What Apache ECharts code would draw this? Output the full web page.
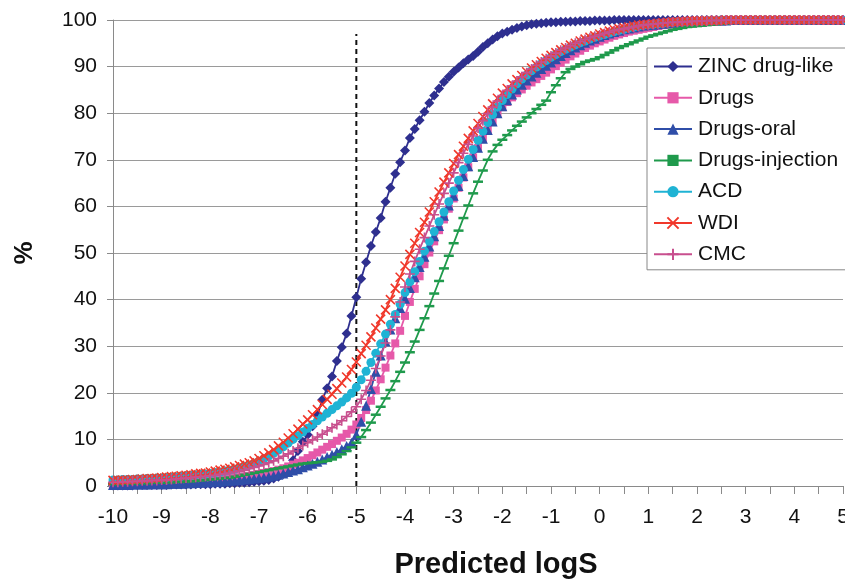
<!DOCTYPE html>
<html>
<head>
  <meta charset="utf-8">
  <title>Predicted logS cumulative distribution</title>
  <script src="https://cdn.jsdelivr.net/npm/echarts@6/dist/echarts.min.js"></script>
  <style>
    html, body { margin: 0; padding: 0; background: #fff; }
    #chart { width: 845px; height: 582px; }
  </style>
</head>
<body>
<div id="chart"></div>
<script type="text/javascript">
// sampling grid of the curves: logS from -10 to 5 in steps of 0.1
var xStart = -10;
var xStep = 0.1;
var xCount = 151;

var seriesNames = ['ZINC drug-like', 'Drugs', 'Drugs-oral', 'Drugs-injection', 'ACD', 'WDI', 'CMC'];

var yTicks = [0, 10, 20, 30, 40, 50, 60, 70, 80, 90, 100];
var xTicks = [-10, -9, -8, -7, -6, -5, -4, -3, -2, -1, 0, 1, 2, 3, 4, 5];

// dashed cut-off line
var cutoffX = -5;
var cutoffRange = [0, 97];

// cumulative %, one value per 0.1 logS, rows of ten
var zinc = [
  0.1,0.1,0.1,0.1,0.1,0.2,0.2,0.2,0.2,0.2,
  0.2,0.2,0.3,0.3,0.3,0.3,0.3,0.4,0.4,0.4,
  0.4,0.5,0.5,0.5,0.6,0.6,0.7,0.7,0.8,0.9,
  1.0,1.1,1.3,1.6,2.0,2.6,3.8,5.5,7.5,9.5,
  11.0,12.8,15.2,18.5,21.0,23.5,26.8,29.8,32.7,36.5,
  40.5,44.5,48.0,51.5,54.5,57.5,61.0,64.0,67.0,69.5,
  72.0,74.7,76.6,78.5,80.3,82.2,83.8,85.3,86.7,87.8,
  88.9,89.8,90.7,91.5,92.3,93.2,94.2,95.0,95.8,96.5,
  97.1,97.5,97.9,98.3,98.6,98.9,99.1,99.2,99.3,99.4,
  99.5,99.5,99.6,99.6,99.7,99.7,99.8,99.8,99.8,99.9,
  99.9,99.9,99.9,100,100,100,100,100,100,100,
  100,100,100,100,100,100,100,100,100,100,
  100,100,100,100,100,100,100,100,100,100,
  100,100,100,100,100,100,100,100,100,100,
  100,100,100,100,100,100,100,100,100,100,
  100
];

var drugs = [
  0.4,0.4,0.4,0.5,0.5,0.5,0.6,0.6,0.6,0.7,
  0.7,0.8,0.8,0.9,0.9,1.0,1.0,1.1,1.2,1.2,
  1.3,1.4,1.5,1.6,1.7,1.8,1.9,2.1,2.2,2.4,
  2.6,2.8,3.0,3.2,3.5,3.8,4.2,4.6,5.0,5.5,
  6.0,6.6,7.2,7.8,8.4,9.0,9.7,10.4,11.2,12.1,
  13.2,14.6,16.3,18.3,20.5,22.9,25.4,28.0,30.6,33.3,
  36.5,39.5,42.3,45.0,47.6,50.1,52.5,54.9,57.2,59.5,
  61.7,64.0,66.2,68.4,70.5,72.5,74.5,76.4,78.2,80.0,
  81.3,82.4,83.4,84.3,85.1,85.9,86.6,87.3,88.0,88.7,
  89.4,90.1,90.8,91.5,92.2,92.8,93.4,94.0,94.5,95.0,
  95.4,95.8,96.2,96.6,96.9,97.2,97.5,97.7,97.9,98.1,
  98.3,98.5,98.7,98.9,99.0,99.1,99.2,99.3,99.4,99.5,
  99.6,99.6,99.7,99.7,99.8,99.8,99.9,99.9,99.9,99.9,
  100,100,100,100,100,100,100,100,100,100,
  100,100,100,100,100,100,100,100,100,100,
  100
];

var drugsOral = [
  0.2,0.2,0.2,0.2,0.3,0.3,0.3,0.3,0.4,0.4,
  0.4,0.4,0.5,0.5,0.5,0.6,0.6,0.7,0.7,0.8,
  0.8,0.9,0.9,1.0,1.1,1.2,1.3,1.4,1.5,1.6,
  1.7,1.8,2.0,2.2,2.4,2.7,3.0,3.3,3.6,4.0,
  4.4,4.8,5.2,5.7,6.2,6.7,7.3,7.9,8.6,9.3,
  11.0,13.8,17.2,20.8,24.5,28.0,31.0,33.6,36.0,38.2,
  40.2,42.5,44.8,47.0,49.2,51.4,53.6,55.8,58.0,60.2,
  62.3,64.4,66.5,68.6,70.6,72.6,74.5,76.4,78.2,80.0,
  81.5,82.8,84.0,85.1,86.1,87.0,87.9,88.7,89.5,90.2,
  90.9,91.6,92.3,92.9,93.5,94.1,94.6,95.1,95.6,96.0,
  96.4,96.8,97.1,97.4,97.7,98.0,98.2,98.4,98.6,98.8,
  98.9,99.0,99.1,99.2,99.3,99.4,99.5,99.5,99.6,99.6,
  99.7,99.7,99.8,99.8,99.9,99.9,99.9,100,100,100,
  100,100,100,100,100,100,100,100,100,100,
  100,100,100,100,100,100,100,100,100,100,
  100
];

var drugsInjection = [
  0.4,0.4,0.5,0.5,0.5,0.6,0.6,0.6,0.7,0.7,
  0.7,0.8,0.8,0.9,0.9,1.0,1.0,1.1,1.2,1.3,
  1.4,1.5,1.6,1.7,1.8,2.0,2.2,2.4,2.6,2.8,
  3.0,3.2,3.4,3.6,3.8,4.0,4.2,4.4,4.6,4.8,
  4.9,5.0,5.1,5.2,5.4,5.7,6.2,6.8,7.5,8.3,
  9.3,10.5,12.0,13.6,15.3,17.0,18.8,20.6,22.5,24.5,
  26.5,28.7,31.0,33.5,36.0,38.6,41.3,44.0,46.7,49.4,
  52.1,54.8,57.5,60.2,62.8,65.3,67.7,70.0,71.8,73.2,
  74.3,75.3,76.3,77.3,78.2,79.1,80.0,80.9,81.8,82.7,
  84.5,86.0,87.5,88.8,89.5,90.0,90.5,91.0,91.3,91.6,
  92.0,92.5,93.0,93.5,94.0,94.4,94.8,95.2,95.6,96.0,
  96.4,96.7,97.0,97.3,97.6,97.9,98.1,98.3,98.5,98.6,
  98.7,98.8,98.9,99.0,99.1,99.2,99.3,99.4,99.5,99.5,
  99.6,99.6,99.7,99.7,99.8,99.8,99.9,99.9,99.9,99.9,
  100,100,100,100,100,100,100,100,100,100,
  100
];

var acd = [
  1.3,1.3,1.4,1.4,1.4,1.5,1.5,1.6,1.6,1.7,
  1.7,1.8,1.9,2.0,2.1,2.2,2.3,2.4,2.5,2.6,
  2.7,2.9,3.0,3.2,3.4,3.6,3.9,4.2,4.5,4.9,
  5.3,5.8,6.4,7.0,7.7,8.4,9.2,10.0,10.8,11.6,
  12.4,13.2,14.0,14.8,15.6,16.4,17.2,18.0,18.9,19.9,
  21.2,22.8,24.6,26.5,28.5,30.5,32.6,34.7,36.8,39.0,
  41.5,43.8,46.0,48.2,50.4,52.5,54.6,56.7,58.8,61.0,
  63.3,65.6,67.9,70.1,72.2,74.2,76.1,78.0,79.7,81.3,
  82.7,84.0,85.2,86.3,87.3,88.2,89.1,89.9,90.6,91.3,
  92.0,92.6,93.2,93.7,94.2,94.7,95.1,95.5,95.9,96.3,
  96.6,96.9,97.2,97.5,97.8,98.0,98.3,98.5,98.7,98.9,
  99.0,99.1,99.2,99.3,99.4,99.5,99.6,99.6,99.7,99.7,
  99.8,99.8,99.9,99.9,99.9,100,100,100,100,100,
  100,100,100,100,100,100,100,100,100,100,
  100,100,100,100,100,100,100,100,100,100,
  100
];

var wdi = [
  1.2,1.2,1.3,1.3,1.4,1.4,1.5,1.6,1.6,1.7,
  1.8,1.9,2.0,2.1,2.2,2.3,2.4,2.6,2.7,2.8,
  3.0,3.2,3.4,3.6,3.8,4.1,4.4,4.7,5.0,5.4,
  5.9,6.5,7.1,7.8,8.6,9.4,10.3,11.2,12.2,13.3,
  14.2,15.3,16.4,17.5,18.6,19.7,20.9,22.1,23.4,25.0,
  26.6,28.4,30.2,32.0,33.9,35.8,37.8,40.0,42.4,44.8,
  47.2,49.7,52.1,54.4,56.6,58.8,61.0,63.1,65.2,67.2,
  69.2,71.1,72.9,74.6,76.2,77.8,79.3,80.7,82.0,83.2,
  84.3,85.3,86.3,87.2,88.1,88.9,89.7,90.4,91.1,91.8,
  92.4,93.0,93.6,94.1,94.6,95.0,95.5,95.9,96.3,96.6,
  97.0,97.3,97.6,97.9,98.1,98.3,98.5,98.7,98.9,99.0,
  99.1,99.2,99.3,99.4,99.5,99.6,99.6,99.7,99.7,99.8,
  99.8,99.8,99.9,99.9,99.9,99.9,100,100,100,100,
  100,100,100,100,100,100,100,100,100,100,
  100,100,100,100,100,100,100,100,100,100,
  100
];

var cmc = [
  0.8,0.8,0.9,0.9,1.0,1.0,1.1,1.1,1.2,1.2,
  1.3,1.3,1.4,1.5,1.6,1.7,1.8,1.9,2.0,2.1,
  2.2,2.3,2.5,2.6,2.8,3.0,3.2,3.4,3.7,4.0,
  4.3,4.6,5.0,5.4,5.9,6.4,6.9,7.5,8.1,8.7,
  9.3,9.9,10.5,11.1,11.8,12.5,13.2,14.0,14.9,15.9,
  17.0,18.6,20.5,22.7,25.2,27.9,30.7,33.5,36.3,39.5,
  42.7,45.5,48.2,50.8,53.3,55.8,58.2,60.5,62.8,65.0,
  67.2,69.4,71.4,73.3,75.1,76.8,78.4,79.9,81.3,82.6,
  83.8,84.9,85.9,86.9,87.8,88.7,89.5,90.3,91.0,91.7,
  92.3,92.9,93.5,94.0,94.5,95.0,95.4,95.8,96.2,96.5,
  96.8,97.1,97.4,97.7,97.9,98.1,98.3,98.5,98.7,98.9,
  99.0,99.1,99.2,99.3,99.4,99.5,99.5,99.6,99.6,99.7,
  99.7,99.8,99.8,99.9,99.9,99.9,100,100,100,100,
  100,100,100,100,100,100,100,100,100,100,
  100,100,100,100,100,100,100,100,100,100,
  100
];

var logS = [];
for (var i = 0; i < xCount; i++) {
  logS.push(Math.round((xStart + i * xStep) * 10) / 10);
}

function pairs(values) {
  var res = [];
  for (var i = 0; i < values.length; i++) {
    res.push([logS[i], values[i]]);
  }
  return res;
}

function curve(name, values, color, symbol, size, extraItem) {
  var item = { color: color };
  if (extraItem) {
    for (var k in extraItem) item[k] = extraItem[k];
  }
  return {
    name: name,
    type: 'line',
    data: pairs(values),
    symbol: symbol,
    symbolSize: size,
    showAllSymbol: true,
    lineStyle: { color: color, width: 1.8 },
    itemStyle: item,
    emphasis: { disabled: true },
    z: 2
  };
}

var font = 'Liberation Sans, Arial, sans-serif';
var myChart = echarts.init(document.getElementById('chart'), null, { renderer: 'canvas' });

var option = {
  animation: false,
  backgroundColor: '#ffffff',
  textStyle: { fontFamily: font },
  grid: { left: 113, right: 2, top: 20, bottom: 96, containLabel: false, outerBoundsMode: 'none' },
  legend: {
    orient: 'vertical',
    left: 647,
    top: 48,
    data: seriesNames,
    itemWidth: 38,
    itemHeight: 14,
    itemGap: 10.3,
    padding: [8, 10, 5, 6],
    backgroundColor: '#ffffff',
    borderColor: '#888888',
    borderWidth: 1,
    borderRadius: 0,
    textStyle: { fontSize: 21, color: '#111111', fontFamily: font, padding: [0, 0, 0, 1] }
  },
  xAxis: {
    type: 'value',
    min: xTicks[0],
    max: xTicks[xTicks.length - 1],
    interval: 0.5,
    name: 'Predicted logS',
    nameLocation: 'middle',
    nameGap: 64,
    nameTextStyle: { fontSize: 29, fontWeight: 'bold', color: '#111111', padding: [0, 0, 0, 36] },
    axisLine: { show: true, onZero: false, lineStyle: { color: '#8a8a8a', width: 1 } },
    axisTick: { show: true, length: 8, lineStyle: { color: '#8a8a8a' } },
    axisLabel: {
      fontSize: 21,
      color: '#111111',
      margin: 21,
      formatter: function (v) {
        return xTicks.indexOf(v) >= 0 ? String(v) : '';
      }
    },
    splitLine: { show: false }
  },
  yAxis: {
    type: 'value',
    min: yTicks[0],
    max: yTicks[yTicks.length - 1],
    interval: 10,
    name: '%',
    nameLocation: 'middle',
    nameRotate: 90,
    nameGap: 75,
    nameTextStyle: { fontSize: 26, fontWeight: 'bold', color: '#111111' },
    axisLine: { show: true, onZero: false, lineStyle: { color: '#8a8a8a', width: 1 } },
    axisTick: { show: true, length: 6, lineStyle: { color: '#8a8a8a' } },
    axisLabel: { fontSize: 21, color: '#111111', margin: 16 },
    splitLine: { show: true, lineStyle: { color: '#9a9a9a', width: 1 } }
  },
  series: [
    curve('ZINC drug-like', zinc, '#2e2f8f', 'diamond', 10),
    curve('Drugs', drugs, '#e659a9', 'rect', 8),
    curve('Drugs-oral', drugsOral, '#2f4ea8', 'triangle', 10),
    curve('Drugs-injection', drugsInjection, '#1f9a4c', 'rect', [10, 2.5]),
    curve('ACD', acd, '#1fb3d4', 'circle', 9),
    curve('WDI', wdi, '#f0382b', 'path://M0,0L10,10M10,0L0,10', 9,
      { borderColor: '#f0382b', borderWidth: 1.6 }),
    curve('CMC', cmc, '#c84f8e', 'path://M5,0L5,10M0,5L10,5', 10,
      { borderColor: '#c84f8e', borderWidth: 1.6 }),
    {
      name: 'cutoff',
      type: 'line',
      data: [[cutoffX, cutoffRange[0]], [cutoffX, cutoffRange[1]]],
      symbol: 'none',
      lineStyle: { color: '#111111', width: 2, type: [5, 4] },
      emphasis: { disabled: true },
      z: 1
    }
  ]
};

myChart.setOption(option);
</script>
</body>
</html>
